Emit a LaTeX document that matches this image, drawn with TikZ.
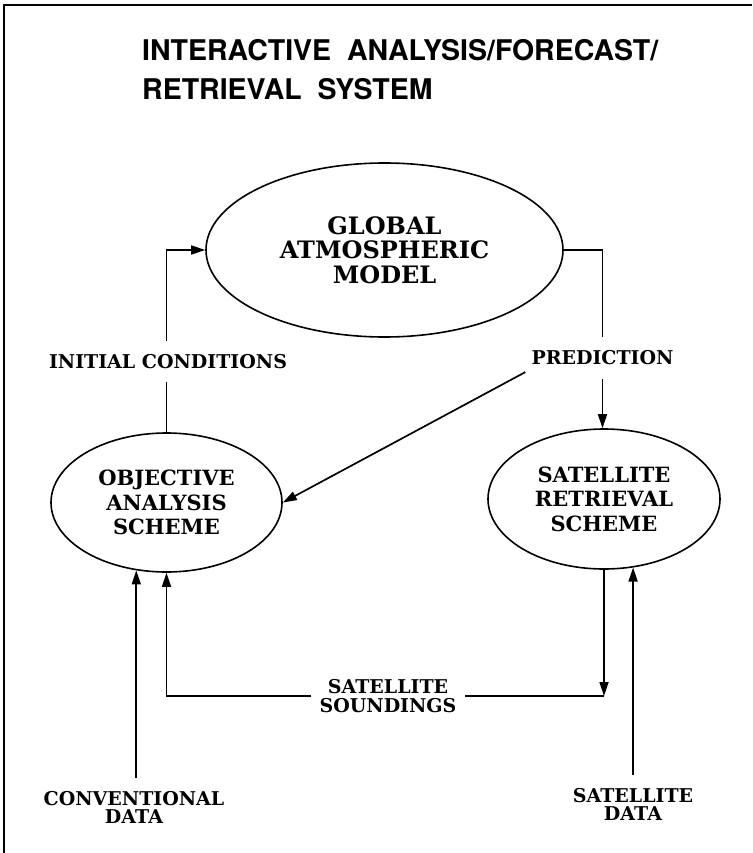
\documentclass[tikz,border=0pt]{standalone}
\usepackage{fontspec}
\setmainfont{DejaVu Serif}
\newfontfamily\titlefont{TeX Gyre Heros}
\usetikzlibrary{shapes.geometric,arrows.meta,calc}
\begin{document}
\begin{tikzpicture}[x=1pt,y=-1pt,
  ell/.style={ellipse,draw,line width=1.6pt,inner sep=0pt,align=center,
    font=\bfseries\fontsize{21}{24.5}\selectfont},
  big/.style={font=\bfseries\fontsize{24}{24.5}\selectfont},
  lbl/.style={align=center,font=\bfseries\fontsize{19}{18.5}\selectfont,
    inner xsep=6pt,inner ysep=13.5pt},
  one/.style={text height=13.85pt,text depth=0pt},
  conn/.style={line width=1.7pt},
  arr/.style={conn,-{Triangle[length=14pt,width=9pt]}},
  ttl/.style={anchor=base west,inner sep=0pt,font=\titlefont\bfseries\fontsize{28.5}{28}\selectfont}]
\useasboundingbox (0,0) rectangle (752,853);
% frame (top and left edges)
\draw[line width=1.5pt] (4,853) -- (4,5) -- (752,5);
% title
\node[ttl] (t1) at (142,61) {INTERACTIVE\hspace{8pt} ANALYSIS/FORECAST/};
\node[ttl] (t2) at (142,100) {RETRIEVAL\hspace{8pt} SYSTEM};
% ellipses
\node[ell,big,minimum width=357pt,minimum height=174pt] (glob) at (384.5,250) {GLOBAL\\ATMOSPHERIC\\MODEL};
\node[ell,minimum width=231pt,minimum height=139pt] (obj) at (166.5,502.5) {OBJECTIVE\\ANALYSIS\\SCHEME};
\node[ell,minimum width=232pt,minimum height=140pt] (sat) at (604,499) {SATELLITE\\RETRIEVAL\\SCHEME};
% labels
\node[lbl,one] (ic) at (168,361.5) {INITIAL CONDITIONS};
\node[lbl,one,inner ysep=14pt] (pred) at (602.5,358) {PREDICTION};
\node[lbl,inner xsep=8pt] (ss) at (388,696) {SATELLITE\\SOUNDINGS};
\node[lbl] (cd) at (134,807.5) {CONVENTIONAL\\DATA};
\node[lbl] (sd) at (633,804.5) {SATELLITE\\DATA};
% connectors
\draw[conn] (obj.north) -- (obj.north |- ic.south);
\draw[arr] (obj.north |- ic.north) |- (glob.west);
\draw[conn] (glob.east) -| (pred.north);
\draw[arr] (pred.south) -- (pred.south |- sat.north);
\draw[arr] ([yshift=7pt]pred.south west) -- (obj.east);
\draw[arr] (sat.south) -- (sat.south |- ss.east);
\draw[conn] (sat.south |- ss.east) -- (ss.east);
\draw[arr] (ss.west) -| (obj.south);
\draw[arr] (obj.246 |- cd.north) -- (obj.246);
\draw[arr] (sat.293 |- sd.north) -- (sat.293);
\end{tikzpicture}
\end{document}
